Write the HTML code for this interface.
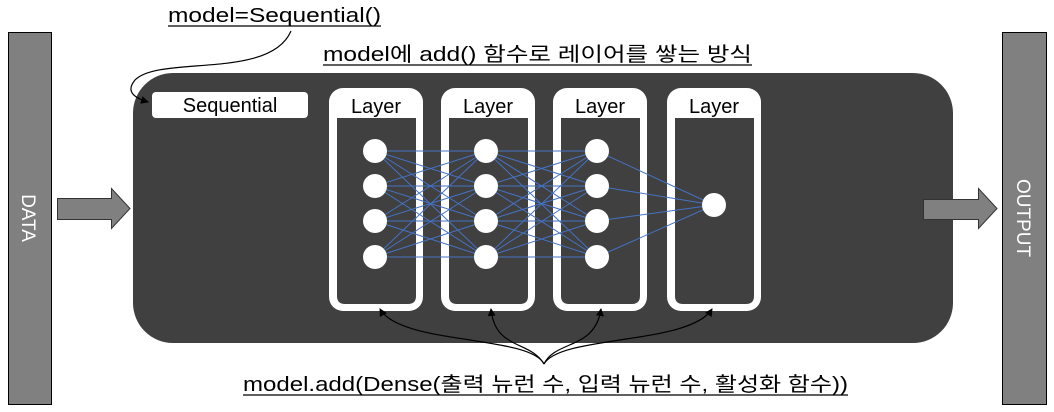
<!DOCTYPE html>
<html><head><meta charset="utf-8"><style>
html,body{margin:0;padding:0;background:#fff;}
svg{display:block;font-family:"Liberation Sans","Noto Sans CJK KR",sans-serif;}
</style></head><body>
<svg width="1054" height="412" viewBox="0 0 1054 412">
<defs><marker id="ah" markerWidth="8" markerHeight="8" refX="7" refY="4" orient="auto" markerUnits="userSpaceOnUse"><path d="M0,0 L8,4 L0,8 Z" fill="#000"/></marker></defs>
<rect x="8.5" y="32.5" width="43" height="372" fill="#808080" stroke="#000"/>
<rect x="1002.5" y="32.5" width="44" height="372" fill="#808080" stroke="#000"/>
<text x="0" y="0" transform="translate(22,218) rotate(90)" text-anchor="middle" fill="#fff" font-size="19">DATA</text>
<text x="0" y="0" transform="translate(1017,218) rotate(90)" text-anchor="middle" fill="#fff" font-size="19">OUTPUT</text>
<rect x="133" y="73" width="820" height="270" rx="40" fill="#404040"/>
<path d="M57.5,198.5 H111.5 V188.5 L130,208.5 L111.5,228.5 V219.5 H57.5 Z" fill="#808080" stroke="#333"/>
<path d="M923.5,199.5 H978.5 V188.5 L997,208.5 L978.5,228.5 V219.5 H923.5 Z" fill="#808080" stroke="#333"/>
<rect x="152" y="92" width="156" height="26" rx="4" fill="#fff"/>
<text x="230" y="112" text-anchor="middle" font-size="20" fill="#000">Sequential</text>
<g fill="#fff">
<rect x="329" y="88" width="94" height="223" rx="14"/>
<rect x="441" y="88" width="94" height="223" rx="14"/>
<rect x="553" y="88" width="94" height="223" rx="14"/>
<rect x="667" y="88" width="94" height="223" rx="14"/>
</g>
<g fill="#404040">
<path d="M337,118H416V296Q416,304 408,304H345Q337,304 337,296Z"/>
<path d="M449,118H528V296Q528,304 520,304H457Q449,304 449,296Z"/>
<path d="M561,118H640V296Q640,304 632,304H569Q561,304 561,296Z"/>
<path d="M675,118H754V296Q754,304 746,304H683Q675,304 675,296Z"/>
</g>
<g font-size="20" text-anchor="middle" fill="#000">
<text x="376" y="113">Layer</text><text x="488" y="113">Layer</text><text x="600" y="113">Layer</text><text x="714" y="113">Layer</text>
</g>
<g stroke="#4472c4" stroke-width="1">
<path d="M375,151L486,151M375,151L486,186M375,151L486,221M375,151L486,257
M375,186L486,151M375,186L486,186M375,186L486,221M375,186L486,257
M375,221L486,151M375,221L486,186M375,221L486,221M375,221L486,257
M375,257L486,151M375,257L486,186M375,257L486,221M375,257L486,257
M486,151L597,151M486,151L597,186M486,151L597,221M486,151L597,257
M486,186L597,151M486,186L597,186M486,186L597,221M486,186L597,257
M486,221L597,151M486,221L597,186M486,221L597,221M486,221L597,257
M486,257L597,151M486,257L597,186M486,257L597,221M486,257L597,257
M597,151L714,205M597,186L714,205M597,221L714,205M597,257L714,205"/>
</g>
<g fill="#fff">
<circle cx="375" cy="151" r="12"/><circle cx="375" cy="186" r="12"/><circle cx="375" cy="221" r="12"/><circle cx="375" cy="257" r="12"/>
<circle cx="486" cy="151" r="12"/><circle cx="486" cy="186" r="12"/><circle cx="486" cy="221" r="12"/><circle cx="486" cy="257" r="12"/>
<circle cx="597" cy="151" r="12"/><circle cx="597" cy="186" r="12"/><circle cx="597" cy="221" r="12"/><circle cx="597" cy="257" r="12"/>
<circle cx="714" cy="205" r="12"/>
</g>
<g stroke="#000" fill="none" stroke-width="1.2">
<path d="M291,31 C270,80 160,55 135,80 C125,92 135,98 148,102" marker-end="url(#ah)"/>
<path d="M544,364 C530,335 400,345 380,309" marker-end="url(#ah)"/>
<path d="M544,364 C530,340 495,350 491,309" marker-end="url(#ah)"/>
<path d="M544,364 C555,340 595,350 601,309" marker-end="url(#ah)"/>
<path d="M544,364 C560,335 690,345 712,309" marker-end="url(#ah)"/>
</g>
<g font-size="20" fill="#000">
<text x="168" y="22" textLength="213" lengthAdjust="spacingAndGlyphs">model=Sequential()</text>
<text x="323" y="61" textLength="429" lengthAdjust="spacingAndGlyphs">model에 add() 함수로 레이어를 쌓는 방식</text>
<text x="243" y="391" textLength="605" lengthAdjust="spacingAndGlyphs">model.add(Dense(출력 뉴런 수, 입력 뉴런 수, 활성화 함수))</text>
</g>
<g stroke="#000" stroke-width="1.2">
<line x1="168" y1="26" x2="381" y2="26"/>
<line x1="323" y1="65" x2="752" y2="65"/>
<line x1="243" y1="395" x2="848" y2="395"/>
</g>
</svg>
</body></html>
